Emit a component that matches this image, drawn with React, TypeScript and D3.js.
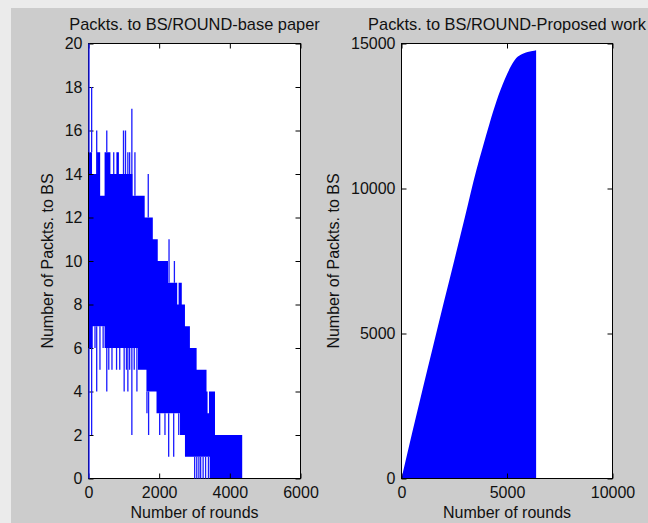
import React, { useEffect, useRef } from 'react';
import * as d3 from 'd3';

// Left panel (base paper). The raw line swings up and down every round, so it
// reads as a solid band: upper / lower step envelopes plus single-round excursions.
const bandUpperRounds = [0, 100, 235, 330, 455, 620, 790, 860, 1250, 1590, 1820, 1960, 2250, 2510, 2550, 2640, 2730, 2870, 3060, 3340, 3370, 3410, 3580, 4350];
const bandUpper = [15, 14, 15, 13, 15, 14, 15, 14, 13, 12, 11, 10, 9, 8, 9, 8, 7, 6, 5, 4, 3, 4, 2, 2];
const bandLowerRounds = [0, 120, 455, 1400, 1640, 1925, 2590, 2730, 3430, 4350];
const bandLower = [6, 7, 6, 5, 4, 3, 2, 1, 0, 0];

const peakRounds = [0, 75, 218, 503, 560, 700, 976, 1033, 1100, 1150, 1213, 1300, 1677, 2265, 2417];
const peakValues = [20, 18, 16, 16, 15, 15, 16, 16, 15, 15, 17, 15, 14, 11, 10];
const dipRounds = [0, 75, 170, 218, 310, 400, 503, 560, 650, 780, 870, 995, 1060, 1100, 1150, 1213, 1280, 1356, 1640, 1687, 2000, 2150, 2255, 2397, 2540, 2990, 3050, 3110, 3160, 3230, 3300, 3380];
const dipValues = [0, 2, 6, 4, 5, 6, 4, 5, 5, 5, 5, 4, 5, 4, 5, 2, 5, 4, 3, 2, 2, 2, 1, 1, 2, 0, 0, 0, 0, 0, 0, 0];

// Right panel (proposed work): cumulative packets to BS
const propRounds = [0, 500, 1000, 1500, 2000, 2500, 3000, 3550, 3860, 4180, 4500, 4890, 5440, 5750, 6200, 6380];
const propPackets = [0, 1560, 3080, 4570, 6060, 7520, 9000, 10640, 11450, 12260, 13010, 13760, 14500, 14650, 14740, 14770];

const baseXTicks = [0, 2000, 4000, 6000];
const baseYTicks = [0, 2, 4, 6, 8, 10, 12, 14, 16, 18, 20];
const propXTicks = [0, 5000, 10000];
const propYTicks = [0, 5000, 10000, 15000];

const baseTitle = 'Packts. to BS/ROUND-base paper';
const propTitle = 'Packts. to BS/ROUND-Proposed work';
const xLabel = 'Number of rounds';
const yLabel = 'Number of Packts. to BS';

const FONT = '"Liberation Sans", Arial, sans-serif';
const BLUE = '#0000ff';
const WIDTH = 648;
const HEIGHT = 523;

const stepValue = (rounds: number[], values: number[], r: number) =>
    values[Math.max(0, d3.bisectRight(rounds, r) - 1)];

const App = () => {
    const svgRef = useRef<SVGSVGElement>(null);

    useEffect(() => {
        const svg = d3.select(svgRef.current);
        svg.selectAll('*').remove();

        // figure background
        svg.append('rect').attr('width', WIDTH).attr('height', HEIGHT).attr('fill', '#ebebeb');
        svg.append('rect').attr('x', 11).attr('y', 8).attr('width', WIDTH - 11).attr('height', HEIGHT - 8).attr('fill', '#cccccc');

        const plotBg = (x, y) => {
            const [x0, x1] = x.range();
            const [y0, y1] = y.range();
            svg.append('rect')
                .attr('x', x0).attr('y', y1)
                .attr('width', x1 - x0).attr('height', y0 - y1)
                .attr('fill', '#ffffff');
        };

        const frame = (x, y, xTicks, yTicks, title, cx) => {
            const [x0, x1] = x.range();
            const [y0, y1] = y.range();
            const axis = (gen, tx, ty) => {
                const g = svg.append('g').attr('transform', `translate(${tx},${ty})`).call(gen);
                g.select('.domain').remove();
                g.attr('font-family', FONT).attr('font-size', 16);
                g.selectAll('line').attr('stroke', '#000');
                g.selectAll('text').attr('fill', '#111');
            };
            const fmt = d3.format('d');
            axis(d3.axisBottom(x).tickValues(xTicks).tickSizeInner(-5).tickSizeOuter(0).tickPadding(8).tickFormat(fmt), 0, y0);
            axis(d3.axisTop(x).tickValues(xTicks).tickSizeInner(-5).tickSizeOuter(0).tickFormat(() => ''), 0, y1);
            axis(d3.axisLeft(y).tickValues(yTicks).tickSizeInner(-5).tickSizeOuter(0).tickPadding(6).tickFormat(fmt), x0, 0);
            axis(d3.axisRight(y).tickValues(yTicks).tickSizeInner(-5).tickSizeOuter(0).tickFormat(() => ''), x1, 0);

            svg.append('rect')
                .attr('x', x0).attr('y', y1)
                .attr('width', x1 - x0).attr('height', y0 - y1)
                .attr('fill', 'none')
                .attr('stroke', '#000')
                .attr('stroke-width', 1);

            // title
            svg.append('text')
                .attr('x', (x0 + x1) / 2)
                .attr('y', 30)
                .attr('text-anchor', 'middle')
                .style('font-family', FONT)
                .style('font-size', '16.4px')
                .style('fill', '#111')
                .text(title);

            // x label
            svg.append('text')
                .attr('x', (x0 + x1) / 2)
                .attr('y', 518)
                .attr('text-anchor', 'middle')
                .style('font-family', FONT)
                .style('font-size', '16px')
                .style('fill', '#111')
                .text(xLabel);

            // y label
            svg.append('text')
                .attr('transform', `translate(${cx},${(y0 + y1) / 2}) rotate(-90)`)
                .attr('text-anchor', 'middle')
                .style('font-family', FONT)
                .style('font-size', '16px')
                .style('fill', '#111')
                .text(yLabel);
        };

        // ---- left panel ----
        const xL = d3.scaleLinear().domain([0, 6000]).range([88.5, 300.5]);
        const yL = d3.scaleLinear().domain([0, 20]).range([478.5, 43.5]);
        plotBg(xL, yL);

        const bandRounds = Array.from(new Set([...bandUpperRounds, ...bandLowerRounds])).sort(d3.ascending);
        const band = d3.area<number>()
            .curve(d3.curveStepAfter)
            .x(r => xL(r))
            .y0(r => yL(stepValue(bandLowerRounds, bandLower, r)))
            .y1(r => yL(stepValue(bandUpperRounds, bandUpper, r)));

        svg.append('path').datum(bandRounds).attr('d', band).attr('fill', BLUE);

        frame(xL, yL, baseXTicks, baseYTicks, baseTitle, 53);

        // single-round excursions (drawn over the axis like the original line)
        const spikes = svg.append('g').attr('stroke', '#1a1aff').attr('stroke-width', 1.3);
        spikes.selectAll('.peak')
            .data(peakRounds)
            .enter()
            .append('line')
            .attr('class', 'peak')
            .attr('x1', r => xL(r) + 0.5)
            .attr('x2', r => xL(r) + 0.5)
            .attr('y1', r => yL(stepValue(bandUpperRounds, bandUpper, r)))
            .attr('y2', (r, i) => yL(peakValues[i]));
        spikes.selectAll('.dip')
            .data(dipRounds)
            .enter()
            .append('line')
            .attr('class', 'dip')
            .attr('x1', r => xL(r) + 0.5)
            .attr('x2', r => xL(r) + 0.5)
            .attr('y1', r => yL(stepValue(bandLowerRounds, bandLower, r)))
            .attr('y2', (r, i) => yL(dipValues[i]));

        // ---- right panel ----
        const xR = d3.scaleLinear().domain([0, 10000]).range([401.5, 612.5]);
        const yR = d3.scaleLinear().domain([0, 15000]).range([478.5, 43.5]);
        plotBg(xR, yR);

        const cumArea = d3.area<number>()
            .curve(d3.curveMonotoneX)
            .x((d, i) => xR(propRounds[i]))
            .y0(yR(0))
            .y1(d => yR(d));

        svg.append('path').datum(propPackets).attr('d', cumArea).attr('fill', BLUE);

        frame(xR, yR, propXTicks, propYTicks, propTitle, 339);
    }, []);

    return (
        <div style={{ position: 'absolute', left: 0, top: 0 }}>
            <svg ref={svgRef} width={WIDTH} height={HEIGHT} style={{ display: 'block' }}></svg>
        </div>
    );
};

export default App;
